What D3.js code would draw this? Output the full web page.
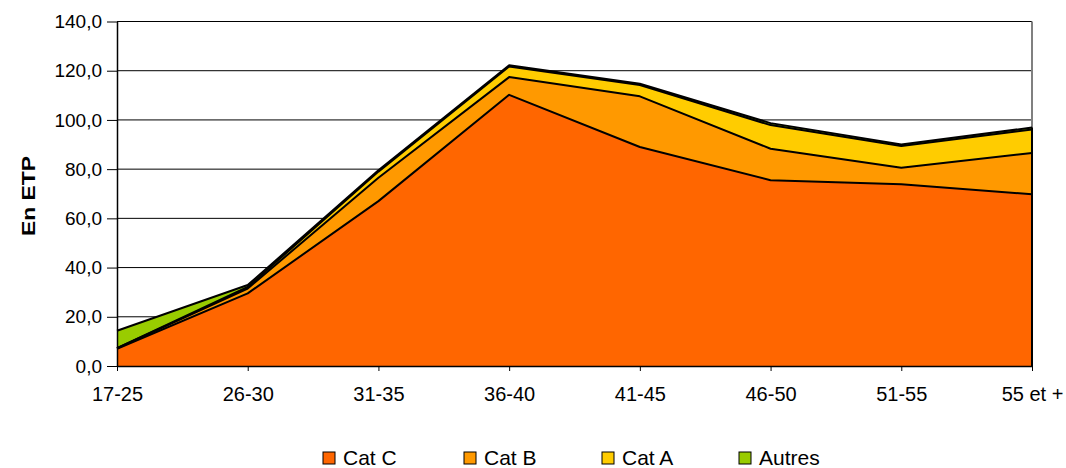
<!DOCTYPE html>
<html>
<head>
<meta charset="utf-8">
<script src="https://cdn.jsdelivr.net/npm/d3@7"></script>
<style>
  html, body { margin: 0; padding: 0; background: #fff; }
  svg { display: block; font-family: "Liberation Sans", Arial, sans-serif; }
</style>
</head>
<body>
<svg id="chart" width="1066" height="468"></svg>
<script>
// Tranches d'âge
const ageGroups = ["17-25", "26-30", "31-35", "36-40", "41-45", "46-50", "51-55", "55 et +"];

// Effectifs en ETP par catégorie
const catC   = [7.0, 29.5, 67.0, 110.2, 89.0, 75.5, 73.9, 69.8];
const catB   = [0.2, 2.0, 9.5, 7.2, 20.6, 12.8, 6.7, 16.8];
const catA   = [0.1, 0.6, 2.5, 4.3, 4.6, 9.6, 8.8, 9.5];
const autres = [7.0, 0.8, 0.5, 0.5, 0.5, 0.8, 0.6, 0.8];

const seriesNames = ["Cat C", "Cat B", "Cat A", "Autres"];
const seriesColors = ["#FF6600", "#FF9900", "#FFCC00", "#99CC00"];
const yTicks = [0, 20, 40, 60, 80, 100, 120, 140];

const rows = ageGroups.map((g, i) => ({
  group: g, "Cat C": catC[i], "Cat B": catB[i], "Cat A": catA[i], "Autres": autres[i]
}));

const svg = d3.select("#chart");
const plot = { left: 117, right: 1032, top: 21.5, bottom: 366 };

const x = d3.scalePoint().domain(ageGroups).range([plot.left, plot.right]);
const y = d3.scaleLinear().domain([0, 140]).range([plot.bottom, plot.top]);

// Grille horizontale
svg.append("g")
  .selectAll("line")
  .data(yTicks.filter(t => t > 0))
  .join("line")
  .attr("x1", plot.left).attr("x2", plot.right)
  .attr("y1", d => y(d)).attr("y2", d => y(d))
  .attr("stroke", "#000").attr("stroke-width", 1);

// Bord droit de la zone de tracé
svg.append("line")
  .attr("x1", plot.right).attr("x2", plot.right)
  .attr("y1", plot.top).attr("y2", plot.bottom)
  .attr("stroke", "#808080").attr("stroke-width", 2);

// Aires empilées
const stack = d3.stack().keys(seriesNames);
const layers = stack(rows);

const area = d3.area()
  .x((d, i) => x(ageGroups[i]))
  .y0(d => y(d[0]))
  .y1(d => y(d[1]));

const topLine = d3.line()
  .x((d, i) => x(ageGroups[i]))
  .y(d => y(d[1]));

svg.append("g")
  .selectAll("path")
  .data(layers)
  .join("path")
  .attr("d", area)
  .attr("fill", (d, i) => seriesColors[i]);

svg.append("g")
  .selectAll("path")
  .data(layers)
  .join("path")
  .attr("d", topLine)
  .attr("fill", "none")
  .attr("stroke", "#000")
  .attr("stroke-width", 2)
  .attr("stroke-linejoin", "round");

// Bord droit noir de l'aire
svg.append("line")
  .attr("x1", plot.right).attr("x2", plot.right)
  .attr("y1", y(d3.sum(seriesNames, k => rows[rows.length - 1][k])))
  .attr("y2", plot.bottom)
  .attr("stroke", "#000").attr("stroke-width", 2);

// Axe Y
const fmt = d => d3.format(".1f")(d).replace(".", ",");
const yAxis = svg.append("g")
  .attr("transform", `translate(${plot.left},0)`)
  .call(d3.axisLeft(y).tickValues(yTicks).tickSize(10).tickSizeOuter(0).tickPadding(5).tickFormat(fmt));
yAxis.select(".domain").attr("stroke", "#000").attr("stroke-width", 1.5);
yAxis.selectAll(".tick line").attr("stroke", "#000");
yAxis.selectAll("text")
  .attr("font-size", 19).attr("fill", "#000")
  .style("font-family", "'Liberation Sans', Arial, sans-serif");

// Axe X
const xAxis = svg.append("g")
  .attr("transform", `translate(0,${plot.bottom})`)
  .call(d3.axisBottom(x).tickSize(5).tickSizeOuter(0).tickPadding(16));
xAxis.select(".domain").attr("stroke", "#000").attr("stroke-width", 1.5);
xAxis.selectAll(".tick line").attr("stroke", "#000");
xAxis.selectAll("text")
  .attr("font-size", 20).attr("fill", "#000")
  .style("font-family", "'Liberation Sans', Arial, sans-serif");

// Titre de l'axe Y
svg.append("text")
  .attr("transform", `translate(35,196) rotate(-90)`)
  .attr("text-anchor", "middle")
  .attr("font-size", 18)
  .attr("font-weight", "bold")
  .attr("textLength", 80)
  .attr("lengthAdjust", "spacingAndGlyphs")
  .text("En ETP");

// Légende
const legendX = [323, 464, 602, 739];
const legend = svg.append("g")
  .selectAll("g")
  .data(seriesNames)
  .join("g")
  .attr("transform", (d, i) => `translate(${legendX[i]},452)`);
legend.append("rect")
  .attr("width", 12).attr("height", 12)
  .attr("fill", (d, i) => seriesColors[i])
  .attr("stroke", "#000").attr("stroke-width", 1);
legend.append("text")
  .attr("x", 20).attr("y", 13)
  .attr("font-size", 21)
  .text(d => d);
</script>
</body>
</html>
